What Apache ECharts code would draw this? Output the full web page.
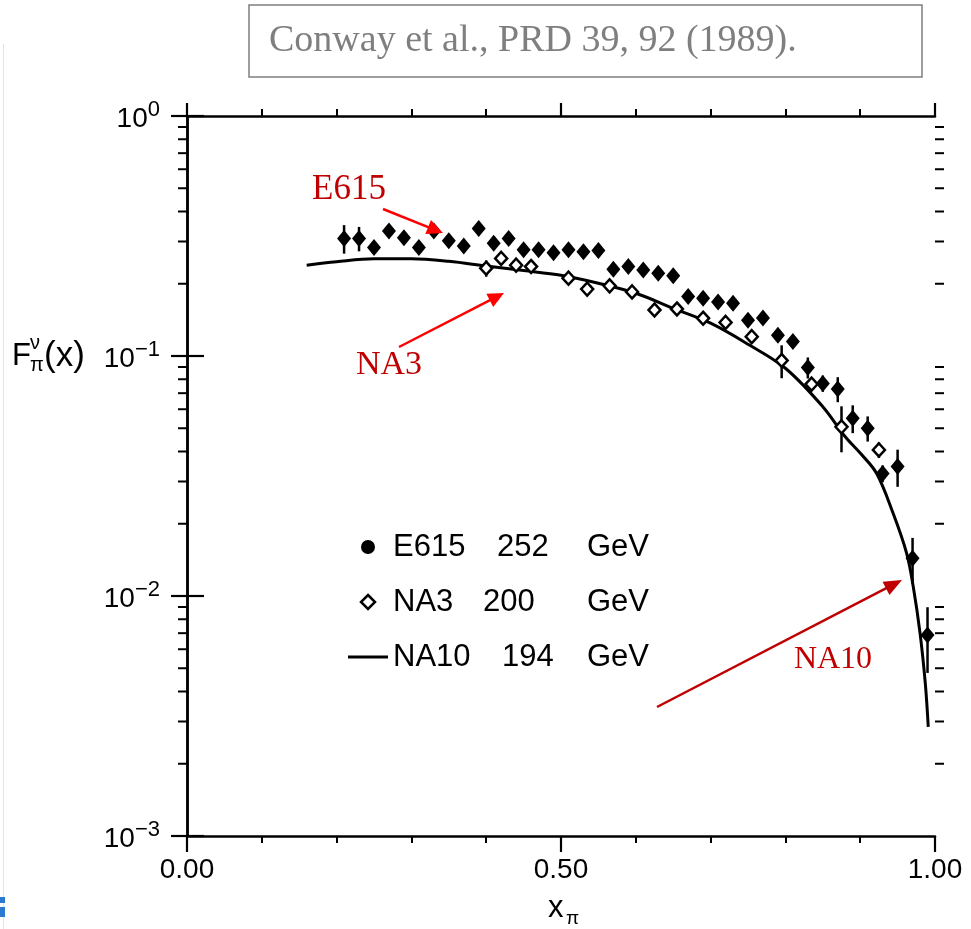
<!DOCTYPE html>
<html>
<head>
<meta charset="utf-8">
<script src="https://cdn.jsdelivr.net/npm/echarts@6/dist/echarts.min.js"></script>
<style>
html,body{margin:0;padding:0;background:#fff;}
#chart{width:971px;height:929px;}
</style>
</head>
<body>
<div id="chart"></div>
<script>
// ---- data ----
const e615X = [0.21,0.23,0.25,0.27,0.29,0.31,0.33,0.35,0.37,0.39,0.41,0.43,0.45,0.47,0.49,0.51,0.53,0.55,0.57,0.59,0.61,0.63,0.65,0.67,0.69,0.71,0.73,0.75,0.77,0.79,0.81,0.83,0.85,0.87,0.89,0.91,0.93,0.95,0.97,0.99];
const e615Y = [0.309,0.309,0.283,0.332,0.311,0.283,0.332,0.302,0.287,0.340,0.295,0.309,0.277,0.277,0.269,0.277,0.272,0.275,0.230,0.236,0.228,0.221,0.216,0.177,0.174,0.168,0.166,0.141,0.144,0.122,0.115,0.0896,0.0769,0.0729,0.0550,0.0500,0.0324,0.0346,0.01436,0.00688];
const e615Err = [0.042,0.036,0.012,0.012,0.012,0.012,0.012,0.012,0.011,0.012,0.011,0.011,0.010,0.010,0.010,0.010,0.010,0.010,0.009,0.009,0.009,0.009,0.008,0.007,0.007,0.007,0.007,0.006,0.006,0.006,0.006,0.009,0.006,0.0087,0.0073,0.006,0.0026,0.0061,0.0031,0.0021];

const na3X = [0.40,0.42,0.44,0.46,0.51,0.535,0.565,0.595,0.625,0.655,0.69,0.72,0.755,0.795,0.835,0.875,0.925];
const na3Y = [0.232,0.255,0.239,0.236,0.211,0.190,0.196,0.185,0.1555,0.157,0.1436,0.138,0.1204,0.0958,0.0764,0.0507,0.0406];
const na3Err = [0.018,0.008,0.008,0.008,0.007,0.007,0.007,0.007,0.010,0.006,0.006,0.008,0.005,0.015,0.004,0.011,0.003];

const na10X = [0.16,0.20,0.25,0.30,0.35,0.40,0.45,0.50,0.55,0.60,0.65,0.70,0.75,0.80,0.85,0.88,0.90,0.922,0.944,0.962,0.971,0.980,0.987,0.991];
const na10Y = [0.239,0.247,0.254,0.254,0.248,0.237,0.227,0.217,0.201,0.1825,0.158,0.137,0.112,0.0889,0.0615,0.0461,0.0394,0.0324,0.0221,0.0151,0.0109,0.0070,0.00433,0.00285];

const xTickLabels = {0:'0.00', 0.5:'0.50', 1:'1.00'};
const yMinorTicks = [0.002,0.003,0.004,0.005,0.006,0.007,0.008,0.009,
                     0.02,0.03,0.04,0.05,0.06,0.07,0.08,0.09,
                     0.2,0.3,0.4,0.5,0.6,0.7,0.8,0.9];
const seriesNames = ['E615 252 GeV','NA3 200 GeV','NA10 194 GeV'];

// ---- chart ----
const SANS = '"Liberation Sans", Arial, sans-serif';
const SERIF = '"Liberation Serif", "Times New Roman", serif';
const chart = echarts.init(document.getElementById('chart'), null, {renderer:'canvas'});

function errorBarSeries(xs, ys, es, z) {
  return {
    type: 'custom', z: z, silent: true, clip: false,
    xAxisIndex: 0, yAxisIndex: 0,
    encode: {x: 0, y: 1},
    data: xs.map((x, i) => [x, ys[i], es[i]]),
    renderItem: function (params, api) {
      const x = api.value(0), y = api.value(1), e = api.value(2);
      const p1 = api.coord([x, y + e]);
      const p2 = api.coord([x, Math.max(y - e, 1e-4)]);
      return {type: 'line', shape: {x1: p1[0], y1: p1[1], x2: p2[0], y2: p2[1]},
              style: {stroke: '#000', lineWidth: 2.5}};
    }
  };
}

function arrow(x1, y1, x2, y2, color, w, hl, hw) {
  const dx = x2 - x1, dy = y2 - y1, L = Math.sqrt(dx*dx + dy*dy);
  const ux = dx / L, uy = dy / L, nx = -uy, ny = ux;
  const bx = x2 - ux * hl, by = y2 - uy * hl;
  return [
    {type: 'line', shape: {x1: x1, y1: y1, x2: bx + ux*2, y2: by + uy*2}, style: {stroke: color, lineWidth: w}, z: 100},
    {type: 'polygon', shape: {points: [[x2, y2], [bx + nx*hw/2, by + ny*hw/2], [bx - nx*hw/2, by - ny*hw/2]]}, style: {fill: color}, z: 100}
  ];
}

const axisLine = {show: true, lineStyle: {color: '#000', width: 2.5}};
// legend column widths (first column per entry so that the energies line up on the right)
const legendColA = {E615: 104, NA3: 90, NA10: 109};
const legendColAB = 194;

const legendRich = {c: {fontFamily: SANS, fontSize: 31, color: '#000'}};
Object.keys(legendColA).forEach(k => {
  const wa = legendColA[k], wb = legendColAB - wa;
  legendRich['a' + wa] = {fontFamily: SANS, fontSize: 31, color: '#000', width: wa};
  legendRich['b' + wb] = {fontFamily: SANS, fontSize: 31, color: '#000', width: wb};
});

const option = {
  backgroundColor: '#fff',
  animation: false,
  grid: {left: 187, right: 36, top: 116, bottom: 93, containLabel: false, outerBoundsMode: 'none'},
  xAxis: [
    {type: 'value', position: 'bottom', min: 0, max: 1, interval: 0.1,
     axisLine: axisLine, axisTick: {show: true, length: 7, lineStyle: {color: '#000', width: 2}},
     axisLabel: {show: false}, splitLine: {show: false}},
    {type: 'value', position: 'bottom', min: 0, max: 1, interval: 0.5,
     axisLine: {show: false}, axisTick: {show: true, length: 16, lineStyle: {color: '#000', width: 2.2}},
     axisLabel: {show: true, margin: 20, fontFamily: SANS, fontSize: 28, color: '#000',
       formatter: v => { const k = Math.round(v * 2) / 2; return xTickLabels[k] !== undefined ? xTickLabels[k] : ''; }},
     splitLine: {show: false}},
    {type: 'value', position: 'top', min: 0, max: 1, interval: 0.1,
     axisLine: axisLine, axisTick: {show: true, length: 7, lineStyle: {color: '#000', width: 2}},
     axisLabel: {show: false}, splitLine: {show: false}},
    {type: 'value', position: 'top', min: 0, max: 1, interval: 0.5,
     axisLine: {show: false}, axisTick: {show: true, length: 13, lineStyle: {color: '#000', width: 2.2}},
     axisLabel: {show: false}, splitLine: {show: false}}
  ],
  yAxis: [
    {type: 'log', logBase: 10, position: 'left', min: 0.001, max: 1,
     axisLine: axisLine, axisTick: {show: true, length: 16, lineStyle: {color: '#000', width: 2.2}},
     splitLine: {show: false}, minorTick: {show: false},
     axisLabel: {show: true, margin: 27, color: '#000',
       formatter: v => { const e = Math.round(Math.log10(v)); return '{b|10}{s|' + (e < 0 ? '\u2212' + (-e) : '' + e) + '}'; },
       rich: {
         b: {fontFamily: SANS, fontSize: 28, lineHeight: 34, verticalAlign: 'bottom', color: '#000'},
         s: {fontFamily: SANS, fontSize: 22, lineHeight: 20, verticalAlign: 'top', color: '#000'}
       }}},
    {type: 'log', logBase: 10, position: 'right', min: 0.001, max: 1,
     axisLine: axisLine, axisTick: {show: true, length: 17, lineStyle: {color: '#000', width: 2.2}},
     splitLine: {show: false}, axisLabel: {show: false}}
  ],
  legend: {
    orient: 'vertical', left: 348, top: 531, padding: 0, itemWidth: 40, itemHeight: 14, itemGap: 23,
    selectedMode: false, symbolKeepAspect: true,
    data: [
      {name: seriesNames[0], icon: 'path://M0,0A10,10,0,1,1,0,0.01Z', itemStyle: {color: '#000'}},
      {name: seriesNames[1], icon: 'path://M7,0L14,7L7,14L0,7Z', itemStyle: {color: '#fff', borderColor: '#000', borderWidth: 2.5}},
      {name: seriesNames[2], icon: 'path://M0,0L40,0L40,3L0,3Z', itemStyle: {color: '#000'}}
    ],
    textStyle: {fontFamily: SANS, fontSize: 31, color: '#000', lineHeight: 32, rich: legendRich},
    formatter: name => {
      const p = name.split(' ');
      const wa = legendColA[p[0]], wb = legendColAB - wa;
      return '{a' + wa + '|' + p[0] + '}{b' + wb + '|' + p[1] + '}{c|' + p[2] + '}';
    }
  },
  series: [
    {name: seriesNames[2], type: 'line', xAxisIndex: 0, yAxisIndex: 0, z: 2,
     data: na10X.map((x, i) => [x, na10Y[i]]), smooth: 0.35, symbol: 'none', showSymbol: false,
     color: '#000', lineStyle: {color: '#000', width: 3}},
    errorBarSeries(e615X, e615Y, e615Err, 3),
    errorBarSeries(na3X, na3Y, na3Err, 3),
    {name: seriesNames[1], type: 'scatter', xAxisIndex: 0, yAxisIndex: 0, z: 4,
     data: na3X.map((x, i) => [x, na3Y[i]]), symbol: 'diamond', symbolSize: [12, 13],
     itemStyle: {color: '#fff', borderColor: '#000', borderWidth: 2.5, opacity: 1}},
    {name: seriesNames[0], type: 'scatter', xAxisIndex: 0, yAxisIndex: 0, z: 5,
     data: e615X.map((x, i) => [x, e615Y[i]]), symbol: 'diamond', symbolSize: [14, 17],
     itemStyle: {color: '#000', opacity: 1}},
    {type: 'custom', z: 6, silent: true, clip: false, xAxisIndex: 0, yAxisIndex: 0,
     encode: {x: 0, y: 1},
     data: yMinorTicks.map(v => [0, v]),
     renderItem: function (params, api) {
       const v = api.value(1);
       const pl = api.coord([0, v]), pr = api.coord([1, v]);
       return {type: 'group', children: [
         {type: 'line', shape: {x1: pl[0] - 9, y1: pl[1], x2: pl[0], y2: pl[1]}, style: {stroke: '#000', lineWidth: 2}},
         {type: 'line', shape: {x1: pr[0], y1: pr[1], x2: pr[0] + 9, y2: pr[1]}, style: {stroke: '#000', lineWidth: 2}}
       ]};
     }}
  ],
  graphic: [
    // citation box
    {type: 'rect', shape: {x: 249, y: 5, width: 673, height: 72}, style: {fill: '#fff', stroke: '#7f7f7f', lineWidth: 1.5}, z: 50},
    {type: 'text', x: 269, y: 41, z: 51, style: {text: 'Conway et al., PRD 39, 92 (1989).', fontFamily: SERIF, fontSize: 38, fill: '#7f7f7f', verticalAlign: 'middle'}},
    // y axis name F_pi^nu(x)
    {type: 'text', x: 12, y: 356, z: 51, style: {text: 'F', fontFamily: SANS, fontSize: 31, fill: '#000', verticalAlign: 'middle'}},
    {type: 'text', x: 30, y: 343, z: 51, style: {text: '\u03bd', fontFamily: SANS, fontSize: 20, fill: '#000', verticalAlign: 'middle'}},
    {type: 'text', x: 30, y: 365, z: 51, style: {text: '\u03c0', fontFamily: SANS, fontSize: 20, fill: '#000', verticalAlign: 'middle'}},
    {type: 'text', x: 44, y: 356, z: 51, style: {text: '(x)', fontFamily: SANS, fontSize: 35, fill: '#000', verticalAlign: 'middle'}},
    // x axis name x_pi
    {type: 'text', x: 548, y: 908, z: 51, style: {text: 'x', fontFamily: SANS, fontSize: 31, fill: '#000', verticalAlign: 'middle'}},
    {type: 'text', x: 566, y: 919, z: 51, style: {text: '\u03c0', fontFamily: SANS, fontSize: 19, fill: '#000', verticalAlign: 'middle'}},
    // red annotations
    {type: 'text', x: 349, y: 190, z: 101, style: {text: 'E615', fontFamily: SERIF, fontSize: 35, fill: '#c00000', align: 'center', verticalAlign: 'middle'}},
    {type: 'text', x: 389, y: 365, z: 101, style: {text: 'NA3', fontFamily: SERIF, fontSize: 34, fill: '#c00000', align: 'center', verticalAlign: 'middle'}},
    {type: 'text', x: 833, y: 660, z: 101, style: {text: 'NA10', fontFamily: SERIF, fontSize: 32, fill: '#c00000', align: 'center', verticalAlign: 'middle'}},
    ...arrow(383, 209, 443, 233, '#ff0000', 2.5, 16, 15),
    ...arrow(399, 347, 504, 293, '#ff0000', 2.5, 16, 15),
    ...arrow(657, 707, 902, 580, '#c00000', 2.5, 18, 15),
    // faint page artifacts at the left edge
    {type: 'rect', shape: {x: 3, y: 44, width: 1, height: 885}, style: {fill: '#e4e4e4'}, z: 1},
    {type: 'rect', shape: {x: 0, y: 897, width: 5, height: 6}, style: {fill: '#2a7bd0'}, z: 1},
    {type: 'rect', shape: {x: 0, y: 907, width: 5, height: 10}, style: {fill: '#2a7bd0'}, z: 1}
  ]
};
chart.setOption(option);
</script>
</body>
</html>
